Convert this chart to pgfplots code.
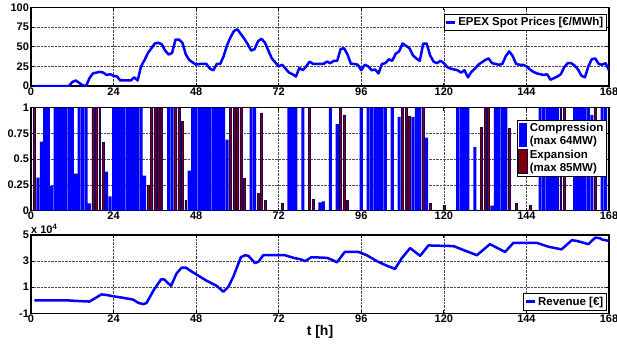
\documentclass[border=0pt]{standalone}
\usepackage{fontspec}
\setmainfont{Liberation Sans}
\usepackage{pgfplots}
\pgfplotsset{compat=1.18}
\definecolor{mblue}{rgb}{0,0,1}
\definecolor{mred}{rgb}{0.5,0,0}
\definecolor{medge}{rgb}{0.12,0,0.35}
\pgfplotsset{
  mystyle/.style={
    scale only axis, width=578pt,
    xmin=0, xmax=168, xtick={0,24,...,168},
    grid=major, major grid style={densely dotted, black!70, line width=0.55pt},
    axis line style={line width=1.1pt},
    tick style={black, line width=0.8pt},
    tick align=inside, major tick length=3pt,
    ticklabel style={font=\fontsize{11}{13}\selectfont\bfseries},
    /pgf/number format/assume math mode=true,
    xticklabel style={yshift=2pt},
    yticklabel style={xshift=1.5pt},
    legend style={font=\fontsize{11.5}{13}\selectfont\bfseries, draw=black, line width=0.8pt, inner sep=1.3pt},
    legend cell align=left,
    legend image code/.code={\draw[##1] (0cm,0cm) -- (0.3cm,0cm);},
  }
}
\begin{document}
\begin{tikzpicture}
\path[use as bounding box] (-31pt,0pt) rectangle (586pt,-345pt);
% ---------------- top: prices
\begin{axis}[mystyle, name=top, at={(0pt,-7.3pt)}, anchor=north west, height=78.7pt,
  ymin=0, ymax=100, ytick={0,25,50,75,100},
  legend style={at={(1,1)}, anchor=north east, xshift=-2pt, yshift=-6.5pt}]
\addplot[mblue, line width=2.5pt, line join=round] coordinates {
(1,0)(2,0)(3,0)(4,0)(5,0)(6,0)(7,0)(8,0)(9,0)(10,0)(11,0)(12,5)(13,7)(14,4)(15,1)(16,0)
(17,10)(18,16)(19,17)(20,18)(21,17)(22,14)(23,15)(24,13)(25,12)(26,7)(27,7)(28,7)(29,7)(30,11)
(31,7)(32,25)(33,33)(34,42)(35,48)(36,54)(37,55)(38,53)(39,45)(40,40)(41,42)(42,59)(43,59)(44,55)
(45,40)(46,33)(47,30)(48,27)(49,28)(50,28)(51,28)(52,22)(53,20)(54,28)(55,28)(56,38)(57,52)(58,62)
(59,70)(60,72)(61,66)(62,60)(63,53)(64,45)(65,47)(66,57)(67,60)(68,55)(69,45)(70,35)(71,30)(72,25)
(73,27)(74,22)(75,17)(76,15)(77,12)(78,23)(79,20)(80,25)(81,31)(82,28)(83,28)(84,28)(85,28)(86,31)
(87,29)(88,32)(89,32)(90,47)(91,48)(92,40)(93,28)(94,28)(95,27)(96,20)(97,27)(98,25)(99,20)(100,21)
(101,16)(102,28)(103,29)(104,34)(105,32)(106,41)(107,44)(108,54)(109,51)(110,48)(111,39)(112,35)
(113,32)(114,54)(115,54)(116,39)(117,31)(118,29)(119,32)(120,29)(121,24)(122,22)(123,21)(124,20)
(125,17)(126,20)(127,11)(128,18)(129,22)(130,27)(131,30)(132,33)(133,35)(134,29)(135,28)(136,27)
(137,28)(138,38)(139,44)(140,38)(141,28)(142,27)(143,27)(144,25)(145,21)(146,18)(147,16)(148,15)
(149,14)(150,15)(151,8)(152,10)(153,12)(154,15)(155,24)(156,29)(157,29)(158,26)(159,21)(160,13)
(161,11)(162,25)(163,34)(164,35)(165,28)(166,27)(167,29)(168,20)};
\addlegendentry{EPEX Spot Prices [€/MWh]}
\end{axis}
% ---------------- middle: compression / expansion
\begin{axis}[mystyle, name=mid, at={(0pt,-107.7pt)}, anchor=north west, height=103pt,
  ymin=0, ymax=1, ytick={0,0.25,0.5,0.75,1},
  legend style={at={(1,1)}, anchor=north east, xshift=-2pt, yshift=-12pt, cells={align=left},
    font=\fontsize{11.5}{13}\selectfont\bfseries}]
\addplot[ybar, bar width=0.9, bar shift=0pt, fill=mblue, draw=none,
  legend image code/.code={\draw[fill=mblue, draw=none] (0cm,-0.42cm) rectangle (0.3cm,0.42cm);}]
 coordinates {
(2,0.32)(3,0.67)(4,1)(5,1)(6,0.24)(7,1)(8,1)(9,1)(10,1)(11,1)(12,1)(13,0.36)(14,1)(15,1)(16,1)(17,0.07)
(22,0.38)(23,0.14)(24,1)(25,1)(26,1)(27,1)(28,1)(29,1)(30,1)(31,1)(32,1)(33,0.34)
(40,1)(41,1)(46,0.39)(47,1)(48,1)(49,1)(50,1)(51,1)(52,1)(53,1)(54,1)(55,1)(56,1)(57,0.69)
(64,1)(65,1)(75,1)(76,1)(77,1)(79,1)(84,0.08)(85,0.09)(87,1)(89,0.84)(96,1)
(98,1)(99,1)(100,1)(101,1)(102,1)(103,1)(105,1)(107,0.91)(111,0.91)(112,1)(113,1)(115,0.71)
(124,1)(125,1)(126,1)(127,1)(129,0.62)(134,0.05)(135,1)(136,1)(137,1)(138,1)
(148,1)(149,1)(150,1)(151,1)(152,1)(153,1)(158,1)(159,1)(160,1)(161,1)(162,1)(163,0.93)(166,1)(167,1)};
\addlegendentry{Compression\\(max 64MW)}
\addplot[ybar, bar width=0.55, bar shift=0pt, fill=mred, draw=medge, line width=0.6pt,
  legend image code/.code={\draw[fill=mred, draw=medge, line width=0.8pt] (0cm,-0.42cm) rectangle (0.3cm,0.42cm);}]
 coordinates {
(1,1)(18,1)(19,1)(20,1)(21,0.66)(34,0.25)(35,1)(36,1)(37,1)(38,1)(42,1)(43,1)(44,0.87)(45,0.1)
(58,1)(59,1)(60,1)(61,1)(62,0.31)(66,0.17)(67,0.95)(68,0.1)(73,0.07)(81,1)(82,0.11)
(90,1)(91,0.93)(92,0.1)(108,1)(109,1)(110,0.92)(114,1)(116,0.07)(120,0.05)
(131,0.81)(132,1)(133,1)(139,0.8)(141,0.07)(145,0.05)(154,1)(155,1)(164,1)};
\addlegendentry{Expansion\\(max 85MW)}
\end{axis}
% ---------------- bottom: revenue
\begin{axis}[mystyle, name=bot, at={(0pt,-235pt)}, anchor=north west, height=78.3pt,
  ymin=-1, ymax=5, ytick={-1,1,3,5},
  xlabel={t [h]}, xlabel style={font=\fontsize{14}{16}\selectfont\bfseries, yshift=4pt},
  legend style={at={(1,0)}, anchor=south east, xshift=-2pt, yshift=3pt}]
\addplot[mblue, line width=2.5pt, line join=round] coordinates {
(1,0)(10,0)(13,-0.05)(17,-0.1)(20.5,0.45)(22,0.4)(24,0.3)(26.5,0.2)(29.7,0.05)(31.2,-0.2)(32.7,-0.3)
(33.6,-0.2)(35.6,0.75)(37.8,1.6)(38.7,1.6)(40.7,1.1)(42.3,2.05)(43.8,2.5)(45,2.5)(46.7,2.2)(51,1.5)
(54,1.1)(55.9,0.65)(57.4,1.05)(58.8,1.8)(61,3.3)(62.2,3.45)(63.2,3.4)(65.1,2.85)(66.1,2.95)(67.5,3.45)
(73.8,3.45)(76.3,3.25)(78.2,3.15)(79.7,3.0)(81.5,3.3)(86,3.25)(87.9,3.05)(88.9,2.9)(91.2,3.7)(95.2,3.7)
(97.6,3.45)(100.5,3.0)(103.4,2.65)(105.8,2.4)(107.7,3.2)(110.2,4.0)(113.1,3.4)(115.5,4.2)(122.8,4.15)
(125.7,3.85)(129.6,3.45)(133.4,4.3)(137.8,3.7)(140.2,4.4)(147,4.4)(150.4,4.1)(154.2,3.9)(157.2,4.6)
(158.6,4.55)(162,4.3)(164,4.8)(165.4,4.75)(166,4.65)(168,4.55)};
\addlegendentry{Revenue [€]}
\end{axis}
\node[anchor=south west, inner sep=0pt, font=\fontsize{11}{13}\selectfont\bfseries] at ([yshift=1.5pt]bot.north west) {x 10\textsuperscript{4}};
\end{tikzpicture}
\end{document}
